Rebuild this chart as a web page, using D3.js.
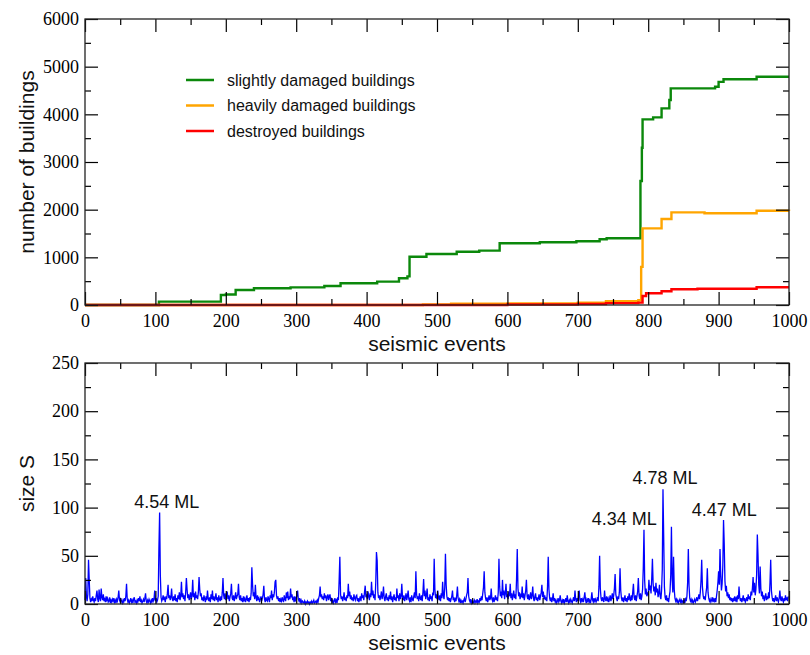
<!DOCTYPE html>
<html>
<head>
<meta charset="utf-8">
<script src="https://cdn.jsdelivr.net/npm/d3@7"></script>
<style>
body { margin: 0; background: #fff; }
</style>
</head>
<body>
<div id="chart"></div>
<script>
// ---- data ----
var xTicks = [0, 100, 200, 300, 400, 500, 600, 700, 800, 900, 1000];
var buildingTicks = [0, 1000, 2000, 3000, 4000, 5000, 6000];
var sizeTicks = [0, 50, 100, 150, 200, 250];

// cumulative damaged buildings, [event, count] at each step
var slightlyDamaged = [
	[0, 0], [105, 70], [193, 210], [200, 220], [214, 315], [240, 350], [292, 370],
	[340, 400], [363, 455], [415, 490], [446, 560], [458, 600], [461, 1013],
	[485, 1070], [528, 1118], [560, 1140], [589, 1294], [646, 1315], [698, 1336],
	[731, 1378], [741, 1399], [789, 2600], [791, 3300], [792, 3895], [807, 3937],
	[819, 4126], [830, 4300], [832, 4545], [895, 4580], [900, 4680], [907, 4735],
	[954, 4790], [1000, 4790]
];
var heavilyDamaged = [
	[0, 0], [480, 10], [520, 25], [600, 35], [700, 50], [740, 80], [786, 100],
	[790, 800], [792, 1608], [819, 1804], [833, 1944], [880, 1925], [954, 1978],
	[1000, 1972]
];
var destroyed = [
	[0, 0], [600, 10], [700, 20], [740, 40], [786, 50], [792, 189], [797, 245],
	[819, 287], [833, 329], [870, 342], [954, 371], [1000, 371]
];
var seriesNames = ['slightly damaged buildings', 'heavily damaged buildings', 'destroyed buildings'];

// size S of each seismic event (index = event number)
var sizeS = [
	4,27,8,3,10,46,25,6,2,5, 3,8,4,2,6,3,9,14,5,2, 15,6,3,16,7,4,10,3,5,2, 8,4,6,2,3,7,1,4,2,5, 3,6,2,4,1,5,3,7,14,4,
	2,5,3,1,4,2,6,3,8,21, 5,2,4,1,3,6,2,4,1,5, 7,2,3,1,4,2,6,3,8,2, 4,1,3,5,2,6,11,3,1,4, 2,5,3,1,4,2,6,3,5,14,
	3,6,2,4,8,58,95,30,7,3, 5,9,4,6,2,8,5,11,20,6, 9,4,7,16,5,3,8,4,10,3, 6,2,9,5,12,4,8,23,7,11, 5,9,3,12,27,15,6,10,4,8,
	12,5,9,25,7,11,4,13,6,9, 5,12,28,15,8,11,4,7,3,9, 5,2,8,4,14,6,3,7,2,10, 5,14,4,8,3,6,11,4,7,2, 9,5,3,8,4,12,27,9,5,11,
	4,8,13,5,9,3,7,11,21,6, 4,9,3,7,12,5,8,10,21,7, 4,9,3,6,2,8,4,6,2,5, 9,3,6,2,7,4,11,38,20,8, 12,5,20,7,3,9,4,6,2,5,
	8,3,6,10,19,5,2,7,4,3, 8,5,2,9,6,14,4,10,7,12, 23,25,9,5,8,3,6,2,5,3, 7,4,2,9,5,3,12,6,13,4, 8,5,16,7,10,4,6,2,8,4,
	6,9,14,5,3,6,2,4,1,3, 2,1,3,0,2,1,3,1,2,0, 2,1,3,1,2,4,1,2,3,1, 4,2,6,9,18,7,10,5,8,4, 11,6,9,3,7,10,4,8,10,3,
	5,2,4,1,3,6,2,4,1,7, 4,25,49,10,5,8,3,6,12,4, 7,3,9,6,21,8,13,5,9,4, 7,3,10,6,4,8,9,3,6,2, 5,8,3,11,6,9,4,12,19,7,
	10,5,13,8,4,11,7,23,9,14, 6,10,4,22,54,45,12,6,9,4, 8,13,5,9,18,6,3,8,11,4, 7,3,9,5,13,4,8,2,6,10, 4,7,3,16,6,9,3,11,5,8,
	21,7,4,9,3,6,11,4,8,14, 5,3,7,2,9,5,3,8,12,6, 34,10,5,8,3,11,6,4,9,3, 12,26,8,14,5,9,16,4,7,3, 10,5,8,3,12,9,47,15,6,10,
	5,14,7,4,9,3,11,6,23,9, 5,17,52,20,8,4,7,3,6,2, 5,8,14,4,7,2,5,3,9,18, 6,3,5,1,4,2,3,1,4,6, 2,5,9,12,27,8,4,2,5,1,
	3,1,2,4,1,3,2,5,1,3, 2,6,3,8,4,11,17,34,12,6, 3,7,2,5,9,4,6,16,5,3, 7,2,5,9,4,7,3,12,47,18, 8,13,6,25,9,14,5,11,21,7,
	10,5,13,8,21,6,11,4,9,14, 6,10,5,26,57,16,8,12,5,9, 7,18,6,11,4,9,14,25,8,5, 10,4,7,12,5,9,18,6,3,8, 11,4,7,3,6,10,4,8,12,20,
	7,13,5,9,4,7,3,18,49,15, 6,3,7,2,5,11,3,6,2,4, 1,3,6,2,4,9,3,1,4,2, 5,1,3,6,2,9,3,1,4,2, 5,3,1,4,7,3,14,5,2,6,
	3,8,14,4,2,6,3,5,2,7, 12,4,1,5,3,6,2,4,1,5, 12,4,2,6,3,5,2,4,7,3, 18,50,16,6,3,7,4,2,14,5, 3,8,4,6,2,5,9,3,6,11,
	5,9,16,31,10,6,3,8,5,12, 37,14,6,3,7,2,5,9,3,6, 2,8,4,11,5,3,9,4,12,21, 7,4,9,3,8,13,27,9,5,11, 4,8,15,37,77,24,10,16,8,12,
	9,25,14,19,11,26,47,21,13,18, 9,22,12,16,7,11,20,8,5,14, 36,119,70,18,7,4,9,3,6,2, 8,13,30,80,26,12,49,15,6,3, 5,2,4,1,3,5,2,4,1,3,
	2,4,1,5,3,8,22,57,19,6, 3,5,2,4,1,3,5,2,4,7, 3,6,10,5,12,24,46,18,9,5, 8,4,11,17,37,12,6,3,5,2, 4,7,2,5,3,6,2,8,14,22,
	34,20,57,30,14,21,40,87,62,24, 13,19,8,12,6,10,4,7,3,6, 2,5,3,8,4,6,2,9,5,18, 7,3,6,2,5,9,3,6,2,4, 7,3,10,5,8,4,13,9,16,28,
	12,22,9,15,30,72,50,20,11,39, 16,8,13,5,9,3,7,11,4,8, 5,12,6,22,46,14,7,3,6,2, 5,9,3,7,4,2,6,14,5,3, 8,4,2,6,3,9,4,7,3,8
];

// magnitude labels: [event, size S where the text sits, label]
var magnitudes = [
	[116, 100, '4.54 ML'],
	[766, 82, '4.34 ML'],
	[824, 124, '4.78 ML'],
	[908, 91, '4.47 ML']
];

// ---- layout ----
var width = 810;
var height = 655;
var left = 85, right = 789;
var top1 = 19, bottom1 = 305;
var top2 = 363, bottom2 = 604;
var colors = ['#0b880b', '#ffa500', '#ff0000'];

var svg = d3.select('#chart')
	.append('svg')
	.attr('width', width)
	.attr('height', height);

// Creates scales
var x_scale = d3.scaleLinear().domain([0, 1000]).range([left, right]);
var y_build = d3.scaleLinear().domain([0, 6000]).range([bottom1, top1]);
var y_size = d3.scaleLinear().domain([0, 250]).range([bottom2, top2]);

// frame with inward ticks on all four sides
function drawFrame(y_scale, yTicks, yMinorStep, bottom, top) {
	var xMinor = d3.range(50, 1000, 100);
	var yMinor = d3.range(yMinorStep, yTicks[yTicks.length - 1], yMinorStep * 2);

	function clean(g) {
		g.select('.domain').remove();
		g.attr('font-family', '"Liberation Serif", "Times New Roman", serif')
			.attr('font-size', 18);
		g.selectAll('line').attr('stroke-width', 1.2);
	}

	svg.append('g')
		.attr('transform', 'translate(0,' + bottom + ')')
		.call(d3.axisBottom(x_scale).tickValues(xTicks).tickSize(-13).tickPadding(9).tickFormat(d3.format('d')))
		.call(clean);
	svg.append('g')
		.attr('transform', 'translate(0,' + bottom + ')')
		.call(d3.axisBottom(x_scale).tickValues(xMinor).tickSize(-6).tickFormat(''))
		.call(clean);
	svg.append('g')
		.attr('transform', 'translate(0,' + top + ')')
		.call(d3.axisTop(x_scale).tickValues(xTicks).tickSize(-13).tickFormat(''))
		.call(clean);
	svg.append('g')
		.attr('transform', 'translate(0,' + top + ')')
		.call(d3.axisTop(x_scale).tickValues(xMinor).tickSize(-6).tickFormat(''))
		.call(clean);

	svg.append('g')
		.attr('transform', 'translate(' + left + ',0)')
		.call(d3.axisLeft(y_scale).tickValues(yTicks).tickSize(-13).tickPadding(6).tickFormat(d3.format('d')))
		.call(clean);
	svg.append('g')
		.attr('transform', 'translate(' + left + ',0)')
		.call(d3.axisLeft(y_scale).tickValues(yMinor).tickSize(-6).tickFormat(''))
		.call(clean);
	svg.append('g')
		.attr('transform', 'translate(' + right + ',0)')
		.call(d3.axisRight(y_scale).tickValues(yTicks).tickSize(-13).tickFormat(''))
		.call(clean);
	svg.append('g')
		.attr('transform', 'translate(' + right + ',0)')
		.call(d3.axisRight(y_scale).tickValues(yMinor).tickSize(-6).tickFormat(''))
		.call(clean);

	svg.append('rect')
		.attr('x', left)
		.attr('y', top)
		.attr('width', right - left)
		.attr('height', bottom - top)
		.attr('fill', 'none')
		.attr('stroke', '#222')
		.attr('stroke-width', 1.3);
}

// ---- top panel: number of buildings ----
var step_line = d3.line()
	.curve(d3.curveStepAfter)
	.x(function(d){ return x_scale(d[0]); })
	.y(function(d){ return y_build(d[1]); });

[slightlyDamaged, heavilyDamaged, destroyed].forEach(function(s, i){
	svg.append('path')
		.datum(s)
		.attr('d', step_line)
		.attr('fill', 'none')
		.attr('stroke', colors[i])
		.attr('stroke-width', 2.4);
});

drawFrame(y_build, buildingTicks, 500, bottom1, top1);

// legend
var legend = svg.append('g')
	.attr('font-family', '"Liberation Sans", Arial, sans-serif')
	.attr('font-size', 16)
	.attr('fill', '#111');
seriesNames.forEach(function(name, i){
	var ly = 80 + i * 25.5;
	legend.append('line')
		.attr('x1', 186).attr('x2', 214)
		.attr('y1', ly).attr('y2', ly)
		.attr('stroke', colors[i])
		.attr('stroke-width', 2.5);
	legend.append('text')
		.attr('x', 227)
		.attr('y', ly + 5.5)
		.text(name);
});

// ---- bottom panel: size S ----
var size_line = d3.line()
	.x(function(d, i){ return x_scale(i); })
	.y(function(d){ return y_size(d); });

svg.append('path')
	.datum(sizeS)
	.attr('d', size_line)
	.attr('fill', 'none')
	.attr('stroke', '#0000ff')
	.attr('stroke-width', 1.3);

drawFrame(y_size, sizeTicks, 25, bottom2, top2);

svg.append('g')
	.attr('font-family', '"Liberation Sans", Arial, sans-serif')
	.attr('font-size', 18)
	.attr('fill', '#111')
	.selectAll('text')
	.data(magnitudes)
	.enter()
	.append('text')
	.attr('x', function(d){ return x_scale(d[0]); })
	.attr('y', function(d){ return y_size(d[1]); })
	.attr('text-anchor', 'middle')
	.text(function(d){ return d[2]; });

// axis titles
var titles = svg.append('g')
	.attr('font-family', '"Liberation Sans", Arial, sans-serif')
	.attr('font-size', 21)
	.attr('fill', '#111')
	.attr('text-anchor', 'middle');
titles.append('text').attr('x', (left + right) / 2).attr('y', 351).text('seismic events');
titles.append('text').attr('x', (left + right) / 2).attr('y', 650).text('seismic events');
titles.append('text')
	.attr('transform', 'translate(34,' + (top1 + bottom1) / 2 + ') rotate(-90)')
	.text('number of buildings');
titles.append('text')
	.attr('transform', 'translate(34,' + (top2 + bottom2) / 2 + ') rotate(-90)')
	.text('size S');
</script>
</body>
</html>
